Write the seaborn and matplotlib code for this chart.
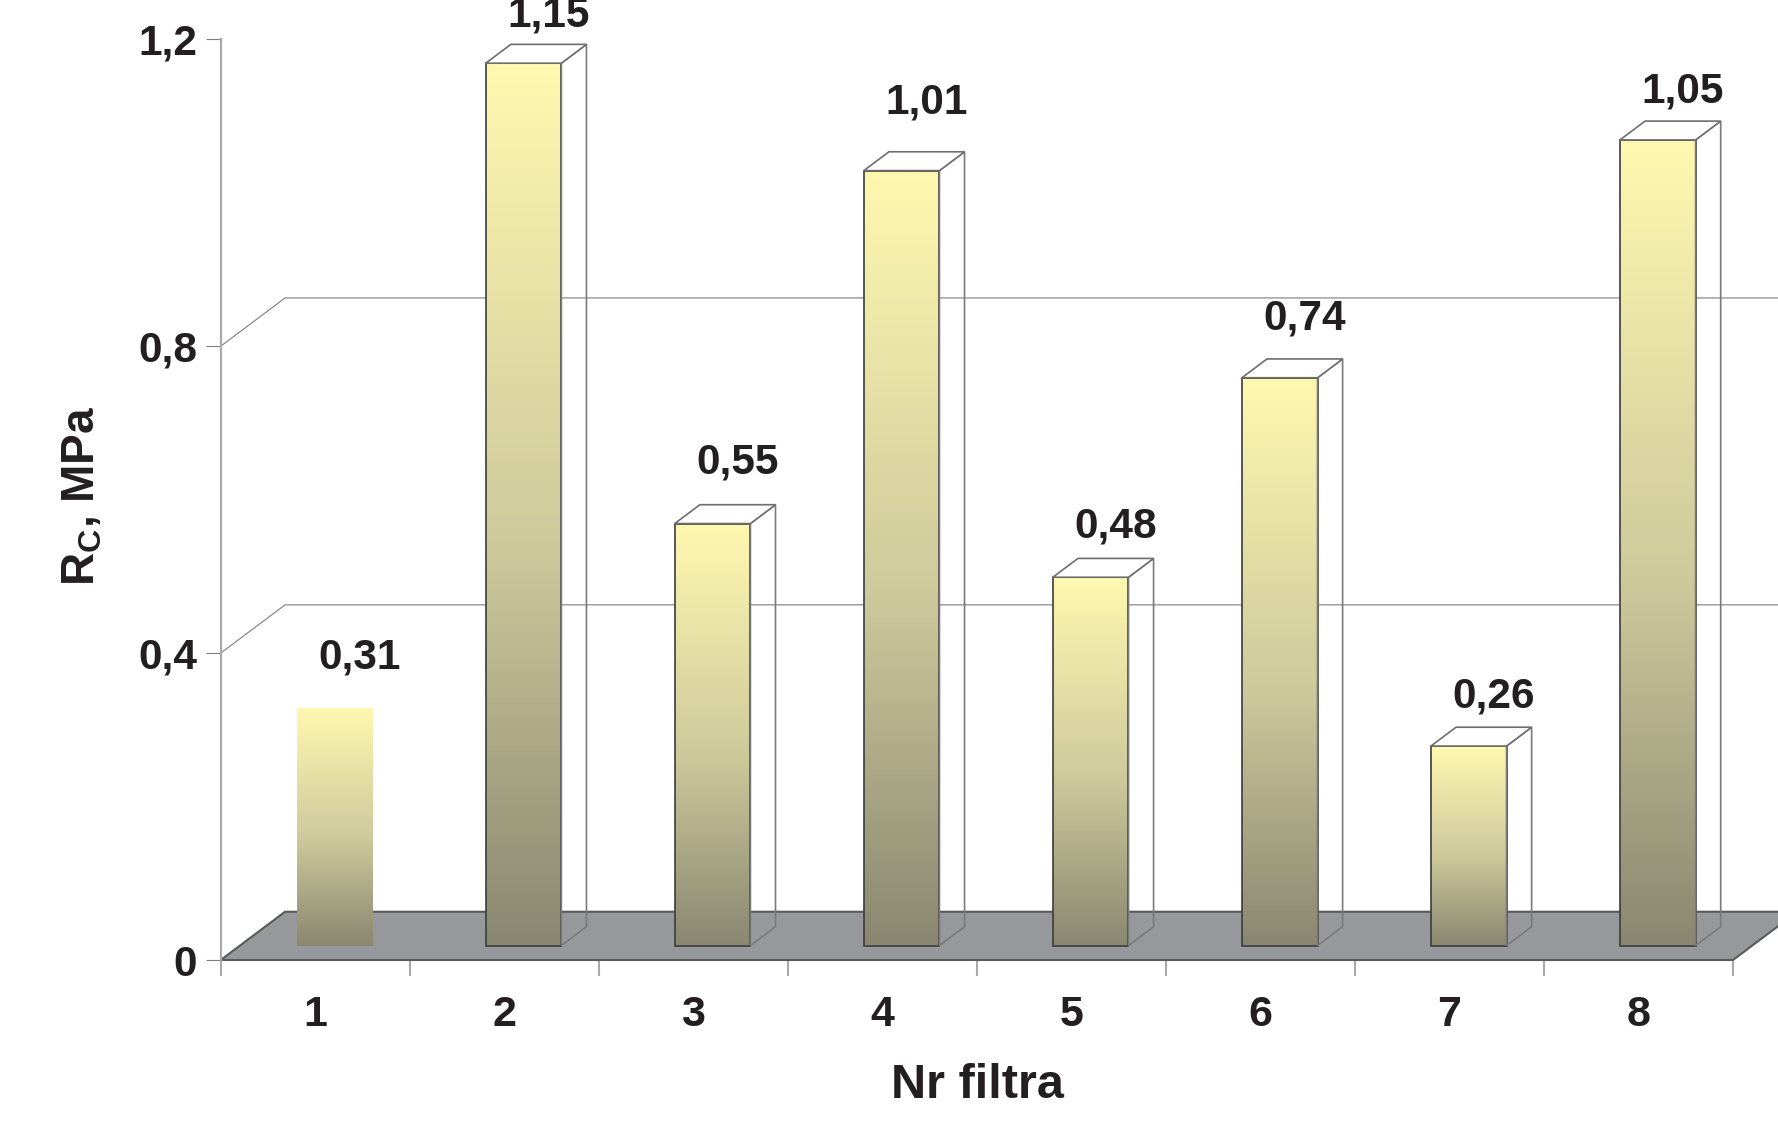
import numpy as np
import pandas as pd
import matplotlib
matplotlib.use("Agg")
import matplotlib.pyplot as plt
from matplotlib.colors import LinearSegmentedColormap
from matplotlib.patches import Polygon
import seaborn as sns

# Compressive strength of the filters
filters = ["1", "2", "3", "4", "5", "6", "7", "8"]
rc_mpa = [0.31, 1.15, 0.55, 1.01, 0.48, 0.74, 0.26, 1.05]
value_labels = ["0,31", "1,15", "0,55", "1,01", "0,48", "0,74", "0,26", "1,05"]
y_ticks = [0, 0.4, 0.8, 1.2]
y_tick_labels = ["0", "0,4", "0,8", "1,2"]
grid_levels = [0.4, 0.8]
boxed = [False, True, True, True, True, True, True, True]
# extra lift of each value label above its bar (points)
label_lift = [1.5, 0, 9.5, 14.5, 2, 8.5, 1.5, 0.5]

sns.set_style("white")
plt.rcParams["font.family"] = ["Liberation Sans", "DejaVu Sans"]
plt.rcParams["font.weight"] = "bold"
plt.rcParams["mathtext.fontset"] = "custom"
plt.rcParams["mathtext.rm"] = "Liberation Sans:bold"
plt.rcParams["mathtext.default"] = "rm"

TEXT = "#231f20"
AXIS_GREY = "#a9a9a9"
GRID_GREY = "#7d7d7d"

# oblique projection of the depth axis (full floor depth, in data units)
DEPTH_X = 0.3404
DEPTH_Y = 0.0629
BAR_FRONT = 0.30
BAR_DEPTH = 0.39

fig = plt.figure(figsize=(17.78, 11.43), dpi=100)
ax = fig.add_axes([0.12413, 0.16010, 0.85056, 0.80551])

df = pd.DataFrame({"filtr": filters, "rc": rc_mpa})
sns.barplot(data=df, x="filtr", y="rc", width=0.4, color="white",
            errorbar=None, ax=ax)

xmin, xmax = -0.5, len(filters) - 0.5


def depth(x, y, d):
    return (x + d * DEPTH_X, y + d * DEPTH_Y)


# floor
floor = Polygon([depth(xmin, 0, 0), depth(xmax, 0, 0),
                 depth(xmax, 0, 1), depth(xmin, 0, 1)],
                closed=True, facecolor="#97989c", edgecolor="#5a5a5a",
                lw=1.5, zorder=1, clip_on=False)
ax.add_patch(floor)

# gridlines on side and back walls
for lev in grid_levels:
    pts = [depth(xmin, lev, 0), depth(xmin, lev, 1), depth(xmax + 1, lev, 1)]
    ax.plot([p[0] for p in pts], [p[1] for p in pts], color=GRID_GREY,
            lw=0.8, zorder=1, clip_on=False)

cmap = LinearSegmentedColormap.from_list(
    "bar", [(0.0, "#8a8771"), (0.45, "#cdc99b"), (1.0, "#fff8b0")])
grad = np.linspace(0, 1, 400).reshape(-1, 1)

for i, p in enumerate(ax.patches[:len(filters)]):
    x0 = p.get_x() + BAR_FRONT * DEPTH_X
    y0 = p.get_y() + BAR_FRONT * DEPTH_Y
    w = p.get_width()
    h = p.get_height()
    p.set_x(x0)
    p.set_y(y0)
    p.set_facecolor("none")
    p.set_zorder(4)
    if boxed[i]:
        p.set_edgecolor("#3c3c3c")
        p.set_linewidth(1.2)
    else:
        p.set_edgecolor("none")
    ax.imshow(grad, extent=[x0, x0 + w, y0, y0 + h], origin="lower",
              aspect="auto", cmap=cmap, zorder=3, interpolation="bilinear")
    if boxed[i]:
        side = Polygon([(x0 + w, y0), depth(x0 + w, y0, BAR_DEPTH),
                        depth(x0 + w, y0 + h, BAR_DEPTH), (x0 + w, y0 + h)],
                       closed=True, facecolor="none", edgecolor="#7a7a7a",
                       lw=1.2, zorder=4, clip_on=False)
        top = Polygon([(x0, y0 + h), (x0 + w, y0 + h),
                       depth(x0 + w, y0 + h, BAR_DEPTH),
                       depth(x0, y0 + h, BAR_DEPTH)],
                      closed=True, facecolor="white", edgecolor="#6e6e6e",
                      lw=1.2, zorder=4, clip_on=False)
        ax.add_patch(side)
        ax.add_patch(top)
    lx, ly = depth(x0 + w / 2, y0 + h, BAR_DEPTH)
    ax.annotate(value_labels[i], xy=(lx, ly), xytext=(0, 13 + label_lift[i]),
                textcoords="offset points", ha="center", va="baseline",
                fontsize=30.5, fontweight="bold", color=TEXT,
                annotation_clip=False, zorder=6)

ax.set_xlim(xmin, xmax)
ax.set_ylim(0, 1.2)

for s in ["top", "right", "bottom"]:
    ax.spines[s].set_visible(False)
ax.spines["left"].set_color(AXIS_GREY)
ax.spines["left"].set_linewidth(1.6)
ax.spines["left"].set_zorder(2)

ax.set_yticks(y_ticks)
ax.set_yticklabels(y_tick_labels)
ax.tick_params(axis="y", which="major", length=11, width=0.8,
               color=GRID_GREY, pad=6, labelsize=30.5, labelcolor=TEXT,
               left=True)

ax.set_xticks(range(len(filters)))
ax.set_xticklabels(filters)
ax.set_xticks(np.arange(xmin, xmax + 0.5, 1.0), minor=True)
ax.tick_params(axis="x", which="major", length=0, pad=25, labelsize=31,
               labelcolor=TEXT)
ax.tick_params(axis="x", which="minor", length=11.5, width=1.5,
               color=AXIS_GREY, bottom=True)
for lbl in ax.get_xticklabels() + ax.get_yticklabels():
    lbl.set_fontweight("bold")

ax.set_xlabel("Nr filtra", fontsize=35, fontweight="bold", color=TEXT)
ax.xaxis.label.set_va("baseline")
ax.xaxis.set_label_coords(0.5004, -0.1502)
ax.set_ylabel("R$_{C}$, MPa", fontsize=33, fontweight="bold", color=TEXT)
ax.yaxis.label.set_va("center")
ax.yaxis.set_label_coords(-0.0914, 0.504)

ax.set_facecolor("none")
fig.savefig("out.png", dpi=100, facecolor="white")
